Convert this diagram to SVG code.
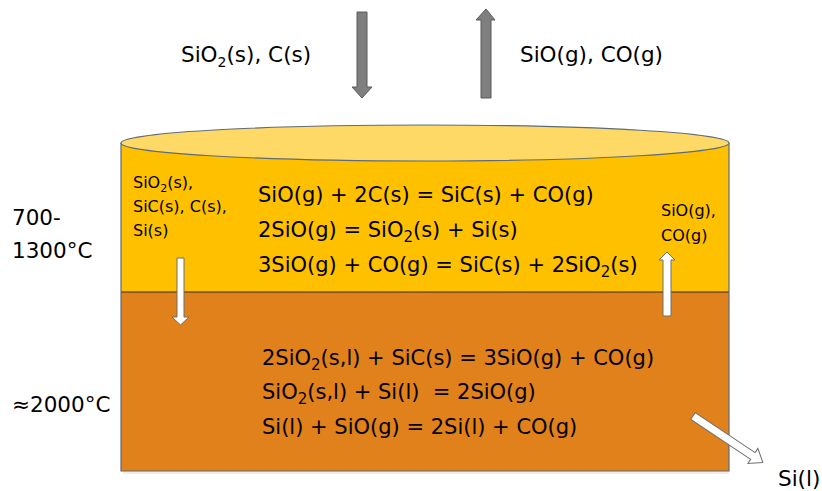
<svg xmlns="http://www.w3.org/2000/svg" width="822" height="491" viewBox="0 0 822 491">
<style>
text{font-family:"DejaVu Sans",Lato,sans-serif;fill:#000}
.lbl{font-size:21.5px}
.sm{font-size:16px}
.eq{font-size:21px}
.garrow{fill:#7f7f7f;stroke:#5a5a5a;stroke-width:1}
.warrow{fill:#fff;stroke:#6f6f6f;stroke-width:1}
</style>
<rect width="822" height="491" fill="#fff"/>
<g id="furnace">
<rect x="123" y="471" width="606" height="3" fill="#000" opacity="0.07"/>
<rect x="121" y="143" width="608" height="149" fill="#FFC000"/>
<rect x="121" y="292" width="608" height="179" fill="#E0811B"/>
<line x1="121" y1="292" x2="729" y2="292" stroke="#3a2a10" stroke-width="1"/>
<path d="M121,143 V471 H729 V143" fill="none" stroke="#5d6b7c" stroke-width="1.2"/>
<ellipse cx="425" cy="143" rx="304" ry="18" fill="#FFD966" stroke="#5d6b7c" stroke-width="1.2"/>
</g>
<g id="connectors">
<polygon class="garrow" points="357,12 367,12 367,87 372,87 362,98 352,87 357,87"/>
<polygon class="garrow" points="486,9 495,20 491,20 491,98 481,98 481,20 476,20"/>
<polygon class="warrow" points="177,258 184,258 184,317 189,317 180.5,325 172,317 177,317"/>
<polygon class="warrow" points="667,252 675,260 671,260 671,316 663,316 663,260 659,260"/>
<polygon class="warrow" transform="translate(693,416) rotate(33.7)" points="0,-4 72,-4 72,-9 84,0 72,9 72,4 0,4"/>
</g>
<g id="feed-label"><text class="lbl" x="181" y="62">SiO<tspan font-size="14" dy="5">2</tspan><tspan dy="-5">(s), C(s)</tspan></text></g>
<g id="gas-label"><text class="lbl" x="520" y="62">SiO(g), CO(g)</text></g>
<g id="temp-upper"><text class="lbl" x="12" y="225">700-</text><text class="lbl" x="12" y="258">1300°C</text></g>
<g id="temp-lower"><text class="lbl" x="12" y="412">≈2000°C</text></g>
<g id="solids-label">
<text class="sm" x="133" y="188">SiO<tspan font-size="11" dy="4">2</tspan><tspan dy="-4">(s),</tspan></text>
<text class="sm" x="133" y="212">SiC(s), C(s),</text>
<text class="sm" x="133" y="236">Si(s)</text>
</g>
<g id="gases-label">
<text class="sm" x="661" y="216">SiO(g),</text>
<text class="sm" x="661" y="241">CO(g)</text>
</g>
<g id="upper-reactions">
<text class="eq" x="258" y="202">SiO(g) + 2C(s) = SiC(s) + CO(g)</text>
<text class="eq" x="258" y="237">2SiO(g) = SiO<tspan font-size="15" dy="5">2</tspan><tspan dy="-5">(s) + Si(s)</tspan></text>
<text class="eq" x="258" y="272">3SiO(g) + CO(g) = SiC(s) + 2SiO<tspan font-size="15" dy="5">2</tspan><tspan dy="-5">(s)</tspan></text>
</g>
<g id="lower-reactions">
<text class="eq" x="262" y="365">2SiO<tspan font-size="15" dy="5">2</tspan><tspan dy="-5">(s,l) + SiC(s) = 3SiO(g) + CO(g)</tspan></text>
<text class="eq" x="262" y="399">SiO<tspan font-size="15" dy="5">2</tspan><tspan dy="-5">(s,l) + Si(l)&#160; = 2SiO(g)</tspan></text>
<text class="eq" x="262" y="434">Si(l) + SiO(g) = 2Si(l) + CO(g)</text>
</g>
<g id="product-label"><text class="lbl" x="778" y="486">Si(l)</text></g>
</svg>
